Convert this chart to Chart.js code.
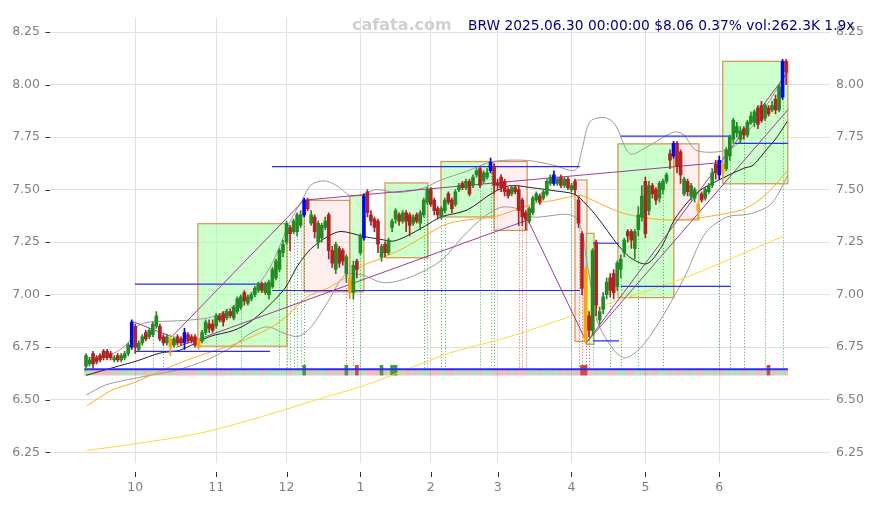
<!DOCTYPE html>
<html>
<head>
<meta charset="utf-8">
<script src="https://cdn.jsdelivr.net/npm/chart.js@4.4.1/dist/chart.umd.min.js"></script>
<style>
html, body { margin: 0; padding: 0; background: #fff; }
</style>
</head>
<body>
<canvas id="chart" width="875" height="505"></canvas>
<script>
// x axis: trading day index 0..199 (2024-09-11 .. 2025-06-30)
var monthIdx = [14, 37, 57, 78, 98, 117, 138, 159, 180];
var monthLbl = ['10', '11', '12', '1', '2', '3', '4', '5', '6'];
var yTicks = [6.25, 6.5, 6.75, 7.0, 7.25, 7.5, 7.75, 8.0, 8.25];

var titleText = 'BRW 2025.06.30 00:00:00 $8.06 0.37% vol:262.3K 1.9x';
var siteText = 'cafata.com';

var openP = [
  6.66,6.67,6.72,6.70,6.71,6.73,6.73,6.72,6.69,6.71,
  6.69,6.70,6.72,6.75,6.85,6.74,6.77,6.82,6.80,6.81,
  6.85,6.85,6.80,6.77,6.79,6.76,6.80,6.79,6.77,6.81,
  6.80,6.80,6.75,6.78,6.82,6.86,6.86,6.85,6.90,6.91,
  6.89,6.92,6.89,6.92,6.94,7.01,6.96,6.98,7.00,7.02,
  7.05,7.01,7.00,7.04,7.08,7.12,7.20,7.25,7.32,7.30,
  7.30,7.33,7.38,7.45,7.34,7.37,7.25,7.27,7.32,7.38,
  7.21,7.12,7.22,7.21,7.10,7.08,7.01,7.16,7.20,7.27,
  7.49,7.38,7.36,7.35,7.18,7.24,7.20,7.32,7.36,7.38,
  7.35,7.39,7.38,7.34,7.38,7.34,7.38,7.44,7.50,7.45,
  7.41,7.37,7.40,7.48,7.45,7.43,7.50,7.53,7.51,7.54,
  7.52,7.57,7.60,7.54,7.56,7.59,7.61,7.53,7.56,7.54,
  7.50,7.48,7.51,7.50,7.45,7.39,7.35,7.39,7.45,7.47,
  7.46,7.48,7.53,7.53,7.53,7.56,7.52,7.55,7.50,7.54,
  7.45,7.29,7.12,6.90,6.83,7.25,6.88,6.93,7.00,7.08,
  7.10,7.04,7.12,7.20,7.30,7.30,7.22,7.31,7.37,7.54,
  7.40,7.52,7.50,7.46,7.50,7.54,7.67,7.66,7.72,7.68,
  7.48,7.54,7.47,7.46,7.43,7.48,7.46,7.49,7.52,7.62,
  7.57,7.62,7.60,7.66,7.74,7.77,7.74,7.79,7.76,7.82,
  7.82,7.89,7.90,7.84,7.89,7.88,7.93,7.88,7.94,8.11
];
var closeP = [
  6.71,6.69,6.67,6.68,6.69,6.70,6.70,6.70,6.70,6.69,
  6.71,6.72,6.76,6.87,6.75,6.77,6.80,6.79,6.83,6.86,
  6.90,6.79,6.77,6.80,6.75,6.79,6.77,6.77,6.82,6.78,
  6.78,6.76,6.78,6.82,6.87,6.84,6.83,6.90,6.88,6.87,
  6.92,6.90,6.94,6.98,6.99,6.97,6.99,7.00,7.03,7.05,
  7.02,7.05,7.06,7.12,7.16,7.21,7.24,7.34,7.29,7.35,
  7.38,7.38,7.45,7.41,7.38,7.30,7.34,7.33,7.35,7.21,
  7.15,7.24,7.15,7.16,7.18,7.01,7.14,7.12,7.28,7.47,
  7.39,7.35,7.32,7.24,7.23,7.20,7.26,7.35,7.40,7.35,
  7.39,7.35,7.33,7.37,7.35,7.39,7.45,7.50,7.43,7.40,
  7.38,7.41,7.45,7.44,7.41,7.49,7.52,7.51,7.54,7.48,
  7.56,7.59,7.52,7.58,7.58,7.63,7.52,7.52,7.51,7.49,
  7.47,7.51,7.49,7.40,7.37,7.36,7.41,7.46,7.48,7.44,
  7.49,7.54,7.56,7.57,7.55,7.52,7.55,7.51,7.52,7.50,
  7.34,7.03,6.78,6.83,7.21,6.95,6.92,6.99,7.06,7.02,
  7.01,7.15,7.17,7.26,7.28,7.26,7.30,7.38,7.47,7.29,
  7.52,7.48,7.45,7.53,7.54,7.57,7.64,7.72,7.61,7.57,
  7.55,7.49,7.52,7.50,7.40,7.45,7.50,7.52,7.58,7.58,
  7.64,7.58,7.69,7.75,7.83,7.80,7.78,7.76,7.82,7.85,
  7.87,7.81,7.83,7.90,7.86,7.90,7.88,7.99,8.11,8.06
];
var highP = [
  6.72,6.70,6.73,6.71,6.72,6.74,6.74,6.73,6.71,6.72,
  6.72,6.73,6.77,6.88,6.86,6.78,6.81,6.83,6.84,6.87,
  6.92,6.86,6.81,6.81,6.81,6.80,6.81,6.80,6.84,6.82,
  6.81,6.81,6.79,6.83,6.88,6.88,6.88,6.91,6.91,6.92,
  6.93,6.93,6.95,6.99,7.00,7.02,7.00,7.01,7.04,7.06,
  7.06,7.06,7.07,7.13,7.17,7.22,7.26,7.35,7.33,7.36,
  7.39,7.40,7.46,7.46,7.40,7.38,7.35,7.34,7.37,7.39,
  7.23,7.25,7.23,7.22,7.19,7.09,7.16,7.17,7.29,7.48,
  7.50,7.40,7.37,7.36,7.24,7.25,7.27,7.36,7.41,7.39,
  7.40,7.40,7.39,7.38,7.39,7.40,7.46,7.51,7.51,7.46,
  7.42,7.42,7.46,7.49,7.46,7.50,7.53,7.54,7.55,7.55,
  7.57,7.60,7.61,7.59,7.60,7.65,7.62,7.55,7.57,7.55,
  7.51,7.52,7.52,7.52,7.46,7.40,7.42,7.47,7.49,7.48,
  7.50,7.55,7.57,7.59,7.56,7.57,7.56,7.56,7.53,7.55,
  7.47,7.30,7.13,6.92,7.22,7.26,6.94,7.01,7.08,7.10,
  7.12,7.16,7.19,7.27,7.31,7.31,7.31,7.42,7.52,7.56,
  7.54,7.53,7.51,7.54,7.55,7.58,7.69,7.73,7.73,7.69,
  7.56,7.55,7.53,7.51,7.44,7.49,7.51,7.53,7.60,7.64,
  7.66,7.63,7.70,7.76,7.84,7.82,7.80,7.80,7.83,7.87,
  7.88,7.90,7.92,7.91,7.90,7.92,7.95,8.00,8.12,8.12
];
var lowP = [
  6.64,6.66,6.65,6.67,6.68,6.69,6.69,6.69,6.68,6.68,
  6.68,6.69,6.71,6.74,6.72,6.73,6.76,6.78,6.79,6.80,
  6.84,6.78,6.76,6.76,6.71,6.75,6.76,6.76,6.74,6.77,
  6.77,6.75,6.74,6.77,6.81,6.82,6.82,6.84,6.87,6.85,
  6.88,6.89,6.88,6.91,6.93,6.95,6.95,6.97,6.99,7.01,
  7.01,7.00,6.98,7.03,7.07,7.11,7.18,7.24,7.21,7.29,
  7.28,7.32,7.37,7.40,7.33,7.27,7.22,7.25,7.31,7.17,
  7.13,7.10,7.13,7.14,7.06,6.98,6.98,7.08,7.19,7.26,
  7.37,7.33,7.30,7.20,7.16,7.18,7.19,7.30,7.34,7.33,
  7.34,7.30,7.28,7.33,7.34,7.31,7.37,7.43,7.42,7.38,
  7.36,7.36,7.39,7.43,7.39,7.42,7.49,7.50,7.50,7.47,
  7.51,7.56,7.51,7.53,7.55,7.58,7.48,7.50,7.49,7.47,
  7.46,7.47,7.48,7.33,7.33,7.31,7.34,7.38,7.44,7.43,
  7.45,7.47,7.52,7.52,7.52,7.51,7.51,7.50,7.49,7.48,
  7.32,7.00,6.77,6.80,6.81,6.90,6.86,6.91,6.98,6.99,
  6.98,7.02,7.08,7.18,7.25,7.22,7.17,7.28,7.35,7.27,
  7.38,7.46,7.43,7.44,7.48,7.53,7.60,7.65,7.58,7.53,
  7.47,7.47,7.45,7.44,7.36,7.44,7.45,7.48,7.51,7.55,
  7.55,7.55,7.59,7.64,7.72,7.75,7.72,7.74,7.75,7.81,
  7.80,7.79,7.82,7.83,7.85,7.87,7.86,7.87,7.93,8.00
];

// highlighted candles
var blueBars = [13, 28, 62, 79, 115, 133, 167, 180, 198];
var orangeBars = [24, 32, 75, 142, 174, 181];

// heavy volume days
var volSpike = [62, 74, 77, 84, 87, 88, 141, 142, 194];
var dotUp = [19, 22, 37, 44, 55, 57, 58, 59, 60, 61, 62, 76, 78, 96, 97, 101, 102, 112, 115, 116, 138, 144, 149, 152, 157, 164, 180, 183, 187, 193, 198];
var dotDown = [74, 123, 124, 125, 140, 141, 142, 143];

// moving averages [index, value]
var ma20 = [[0,6.616],[7.7,6.653],[14.5,6.685],[21,6.722],[26.7,6.736],[35.2,6.801],[41.8,6.829],[46.6,6.870],[51.5,6.940],[56.6,7.032],[60.2,7.139],[63.9,7.218],[68.8,7.278],[72.5,7.301],[78.7,7.278],[83.6,7.264],[87.3,7.255],[91,7.278],[96.1,7.324],[100.9,7.370],[108.3,7.403],[115.7,7.486],[120.5,7.519],[126.8,7.509],[133,7.495],[139,7.477],[142.1,7.431],[145.3,7.370],[151.5,7.231],[155.2,7.171],[159.5,7.148],[163.7,7.231],[167.4,7.361],[173.7,7.486],[181.1,7.556],[187,7.602],[189.6,7.616],[193.6,7.694],[196.4,7.750],[199.3,7.824]];
var ma50 = [[0.3,6.472],[7.4,6.546],[13.9,6.583],[20.2,6.630],[26.7,6.676],[34.4,6.722],[42.9,6.769],[52.9,6.847],[57.7,6.907],[62.5,6.986],[68.8,7.032],[73.6,7.079],[78.7,7.139],[83.6,7.171],[89.8,7.218],[96.1,7.278],[102,7.333],[108.3,7.356],[115.7,7.370],[120.5,7.394],[126.8,7.431],[133,7.449],[140.4,7.472],[144.1,7.449],[151.5,7.394],[157.5,7.370],[164.9,7.356],[172.3,7.361],[179.6,7.380],[187,7.407],[193.3,7.477],[199.5,7.593]];
var ma200 = [[0.3,6.259],[14.5,6.292],[33,6.343],[52.3,6.431],[66.5,6.505],[79.3,6.569],[96.1,6.676],[103.2,6.722],[120.5,6.801],[145.3,6.940],[170,7.079],[198.1,7.278]];
var bandUp = [[0,6.699],[6.8,6.713],[11.9,6.769],[14.8,6.852],[18.2,6.870],[25.3,6.875],[32.4,6.884],[36.7,6.898],[41.8,6.944],[46.6,7.0],[52.3,7.130],[58,7.347],[61.4,7.449],[64,7.523],[67.7,7.542],[71.3,7.519],[75,7.472],[78.7,7.477],[82.4,7.5],[88.7,7.486],[96.1,7.509],[100.9,7.546],[108.3,7.588],[115.7,7.634],[125.6,7.639],[133,7.616],[139,7.593],[141,7.694],[143.3,7.824],[147.5,7.843],[150.4,7.810],[154.6,7.671],[159.5,7.704],[166.9,7.773],[169.7,7.764],[173.7,7.685],[183.1,7.694],[188.7,7.787],[194.4,7.926],[199.5,8.065]];
var bandLow = [[0,6.523],[5.4,6.569],[11.1,6.593],[18.2,6.616],[25.3,6.639],[34.4,6.690],[41.8,6.755],[46.6,6.815],[51.5,6.847],[56.6,6.815],[60.3,6.801],[64,6.847],[68.8,6.968],[73.6,7.093],[78.7,7.093],[83.6,7.060],[87.3,7.060],[93.5,7.093],[100.9,7.162],[107.2,7.278],[113.1,7.370],[118.2,7.417],[123.1,7.407],[126.8,7.370],[139,7.370],[142.7,7.125],[145.3,6.875],[150.1,6.736],[153.2,6.699],[157.5,6.745],[162.6,6.861],[170,7.079],[176,7.292],[182.2,7.370],[188.5,7.384],[194.7,7.431],[199.5,7.569]];

// boxes
var boxStart = [31.8, 62, 75, 85, 100.9, 116, 139, 142.2, 151.2, 167.1, 181];
var boxEnd = [57.1, 75, 79, 97.2, 116, 125.4, 142.4, 144.4, 167.1, 174.2, 199.5];
var boxTop = [7.338, 7.449, 7.472, 7.532, 7.634, 7.634, 7.546, 7.292, 7.718, 7.718, 8.111];
var boxBottom = [6.755, 7.014, 7.014, 7.176, 7.370, 7.306, 6.778, 6.764, 6.986, 7.356, 7.528];
var boxKind = ['up', 'down', 'up', 'up', 'up', 'down', 'down', 'up', 'up', 'down', 'up'];

// horizontal levels
var levStart = [13.9, 13.9, 52.9, 52.9, 144.1, 144.1, 152, 152, 184.5, -0.5];
var levEnd = [52.3, 52.3, 140.4, 140.4, 151.5, 151.5, 183.3, 183.3, 199.5, 199.5];
var levVal = [7.05, 6.73, 7.61, 7.02, 7.245, 6.78, 7.755, 7.04, 7.72, 6.645];

// trend / zigzag lines [startIdx, startVal, endIdx, endVal]
var trendLines = [
  [12.8, 6.875, 24.4, 6.80],
  [24.4, 6.80, 62, 7.45],
  [62, 7.45, 181, 7.63],
  [25.7, 6.75, 125.6, 7.356],
  [125.6, 7.356, 142.3, 6.773],
  [142.3, 6.773, 199.5, 7.88],
  [142.3, 6.773, 199.5, 8.06]
];

var upColor = '#228b22', downColor = '#b22222';

function barColor(i) {
  if (blueBars.indexOf(i) >= 0) return '#0000ff';
  if (orangeBars.indexOf(i) >= 0) return '#ffa500';
  return closeP[i] >= openP[i] ? upColor : downColor;
}

var idx = [];
for (var i = 0; i < closeP.length; i++) idx.push(i);

var wicks = idx.map(function (i) { return {x: i, y: [lowP[i], highP[i]]}; });
var bodies = idx.map(function (i) { return {x: i, y: [Math.min(openP[i], closeP[i]), Math.max(openP[i], closeP[i])]}; });
var colors = idx.map(barColor);
var vols = idx.map(function (i) { return {x: i, y: [6.617, volSpike.indexOf(i) >= 0 ? 6.664 : 6.645]}; });
var volColors = idx.map(function (i) {
  var up = closeP[i] >= openP[i];
  var a = volSpike.indexOf(i) >= 0 ? 0.85 : 0.3;
  return up ? 'rgba(34,139,34,' + a + ')' : 'rgba(200,40,40,' + a + ')';
});

function pts(arr) {
  return arr.map(function (p) { return {x: p[0], y: p[1]}; });
}

function lineSet(data, color, order) {
  return {type: 'line', data: data, borderColor: color, borderWidth: 1, pointRadius: 0,
    tension: 0.3, fill: false, order: order};
}

var datasets = [];
datasets.push({type: 'bar', data: bodies, backgroundColor: colors, barThickness: 3,
  grouped: false, minBarLength: 1, order: 0});
datasets.push({type: 'bar', data: wicks, backgroundColor: colors, barThickness: 1,
  grouped: false, order: 1});
for (var t = 0; t < trendLines.length; t++) {
  var L = trendLines[t];
  datasets.push({type: 'line', data: [{x: L[0], y: L[1]}, {x: L[2], y: L[3]}],
    borderColor: '#9a3d9a', borderWidth: 1, pointRadius: 0, order: 2});
}
for (var h = 0; h < levVal.length; h++) {
  datasets.push({type: 'line', data: [{x: levStart[h], y: levVal[h]}, {x: levEnd[h], y: levVal[h]}],
    borderColor: '#2a2aff', borderWidth: h === levVal.length - 1 ? 2 : 1.2, pointRadius: 0, order: 3});
}
datasets.push(lineSet(pts(ma20), '#222222', 4));
datasets.push(lineSet(pts(ma50), '#ffaa22', 4));
datasets.push(lineSet(pts(ma200), '#ffd83a', 4));
datasets.push(lineSet(pts(bandUp), '#9a9a9a', 5));
datasets.push(lineSet(pts(bandLow), '#9a9a9a', 5));
datasets.push({type: 'bar', data: vols, backgroundColor: volColors, barThickness: 3,
  grouped: false, order: 6});

var overlay = {
  id: 'overlay',
  beforeDatasetsDraw: function (chart) {
    var ctx = chart.ctx, xs = chart.scales.x, ys = chart.scales.y;
    ctx.save();
    for (var k = 0; k < boxStart.length; k++) {
      var x1 = xs.getPixelForValue(boxStart[k]), x2 = xs.getPixelForValue(boxEnd[k]);
      var y1 = ys.getPixelForValue(boxTop[k]), y2 = ys.getPixelForValue(boxBottom[k]);
      ctx.fillStyle = boxKind[k] === 'up' ? 'rgba(170,255,170,0.6)' : 'rgba(255,205,205,0.35)';
      ctx.fillRect(x1, y1, x2 - x1, y2 - y1);
      ctx.strokeStyle = '#d8924e';
      ctx.lineWidth = 1.2;
      ctx.strokeRect(x1, y1, x2 - x1, y2 - y1);
    }
    ctx.lineWidth = 1;
    ctx.setLineDash([1, 2]);
    var base = ys.getPixelForValue(6.645);
    function dots(list, color) {
      ctx.strokeStyle = color;
      list.forEach(function (i) {
        var px = Math.round(xs.getPixelForValue(i)) + 0.5;
        ctx.beginPath();
        ctx.moveTo(px, ys.getPixelForValue(lowP[i]));
        ctx.lineTo(px, base);
        ctx.stroke();
      });
    }
    dots(dotUp, 'rgba(40,150,40,0.8)');
    dots(dotDown, 'rgba(210,50,50,0.8)');
    ctx.restore();
  },
  afterDraw: function (chart) {
    var ctx = chart.ctx, xs = chart.scales.x, ys = chart.scales.y, area = chart.chartArea;
    ctx.save();
    ctx.strokeStyle = '#333';
    ctx.lineWidth = 1;
    monthIdx.forEach(function (v) {
      var px = Math.round(xs.getPixelForValue(v)) + 0.5;
      ctx.beginPath();
      ctx.moveTo(px, area.bottom + 9);
      ctx.lineTo(px, area.bottom + 14);
      ctx.stroke();
    });
    yTicks.forEach(function (v) {
      var py = Math.round(ys.getPixelForValue(v)) + 0.5;
      ctx.beginPath();
      ctx.moveTo(area.left - 4.5, py);
      ctx.lineTo(area.left, py);
      ctx.stroke();
    });
    ctx.textBaseline = 'middle';
    ctx.textAlign = 'left';
    ctx.font = 'bold 16px "DejaVu Sans"';
    ctx.fillStyle = '#d0d0d0';
    ctx.fillText(siteText, 352, 26);
    ctx.font = '13.8px "DejaVu Sans"';
    ctx.fillStyle = '#00008b';
    ctx.fillText(titleText, 468, 26);
    ctx.restore();
  }
};

Chart.defaults.font.family = '"DejaVu Sans"';
Chart.defaults.font.size = 12.5;
Chart.defaults.color = '#808080';

var ctx = document.getElementById('chart').getContext('2d');
var chart = new Chart(ctx, {
  type: 'bar',
  data: {datasets: datasets},
  options: {
    responsive: false,
    animation: false,
    layout: {autoPadding: false, padding: {top: 5, left: 0, right: 0, bottom: 0}},
    plugins: {legend: {display: false}, tooltip: {enabled: false}},
    scales: {
      x: {
        type: 'linear',
        offset: false,
        min: -10.23,
        max: 211.48,
        afterBuildTicks: function (scale) {
          scale.ticks = monthIdx.map(function (v) { return {value: v}; });
        },
        afterFit: function (scale) { scale.height = 42; },
        grid: {color: '#e0e0e0', drawTicks: false, offset: false},
        border: {display: false},
        ticks: {
          padding: 17,
          maxRotation: 0,
          autoSkip: false,
          callback: function (value) {
            var k = monthIdx.indexOf(value);
            return k >= 0 ? monthLbl[k] : '';
          }
        }
      },
      y: {
        type: 'linear',
        position: 'left',
        min: 6.199,
        max: 8.3194,
        afterBuildTicks: function (scale) {
          scale.ticks = yTicks.map(function (v) { return {value: v}; });
        },
        afterFit: function (scale) { scale.width = 50; },
        grid: {color: '#e0e0e0', drawTicks: false},
        border: {display: false},
        ticks: {padding: 10, callback: function (v) { return v.toFixed(2); }}
      },
      y2: {
        type: 'linear',
        position: 'right',
        min: 6.199,
        max: 8.3194,
        afterBuildTicks: function (scale) {
          scale.ticks = yTicks.map(function (v) { return {value: v}; });
        },
        afterFit: function (scale) { scale.width = 45; },
        grid: {display: false, drawTicks: false},
        border: {display: false},
        ticks: {padding: 6, callback: function (v) { return v.toFixed(2); }}
      }
    }
  },
  plugins: [overlay]
});
</script>
</body>
</html>
